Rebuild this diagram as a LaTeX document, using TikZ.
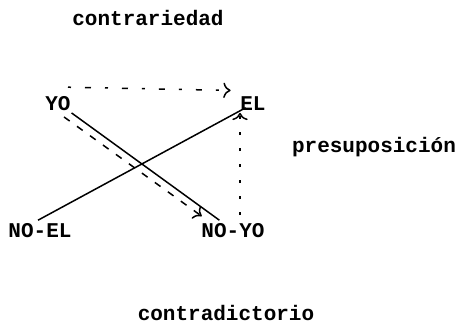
\documentclass[tikz,border=0pt]{standalone}
\usepackage{fontspec}
\usetikzlibrary{arrows.meta}
\setmonofont{Liberation Mono}
\begin{document}
\begin{tikzpicture}[x=1pt,y=-1pt,>={To[scale=1.5]},
		lbl/.style={font=\fontsize{21}{25}\selectfont\ttfamily\bfseries,inner sep=2pt,anchor=base},
		every path/.style={line width=1.5pt}]
				\useasboundingbox (0,0) rectangle (461,325);
				\node[lbl] (contrariedad) at (148,25) {contrariedad};
				\node[lbl] (presup) at (374,152) {presuposición};
				\node[lbl] (contradictorio) at (226,320) {contradictorio};
				\node[lbl] (yo) at (58,110) {YO};
				\node[lbl] (el) at (253,110) {EL};
				\node[lbl] (noel) at (40,237) {NO-EL};
				\node[lbl] (noyo) at (233,237) {NO-YO};
				% lineas
				\draw (yo) -- (noyo);
				\draw ([xshift=-2pt]noel.north) -- ([xshift=8pt,yshift=5pt]el.south west);
				\draw[->, dash pattern=on 7pt off 9pt] ([xshift=6pt,yshift=-4pt]yo.south) -- ([xshift=3pt,yshift=4pt]noyo.north west);
				\draw[->, dash pattern=on 3pt off 14pt on 6pt off 14pt] ([xshift=10pt,yshift=6pt]yo.north) -- ([xshift=-7pt,yshift=3pt]el.north west);
				\draw[->, dash pattern=on 3pt off 13pt] ([xshift=7pt,yshift=5pt]noyo.north) -- ([xshift=-13pt]el.south);
			\end{tikzpicture}
\end{document}
